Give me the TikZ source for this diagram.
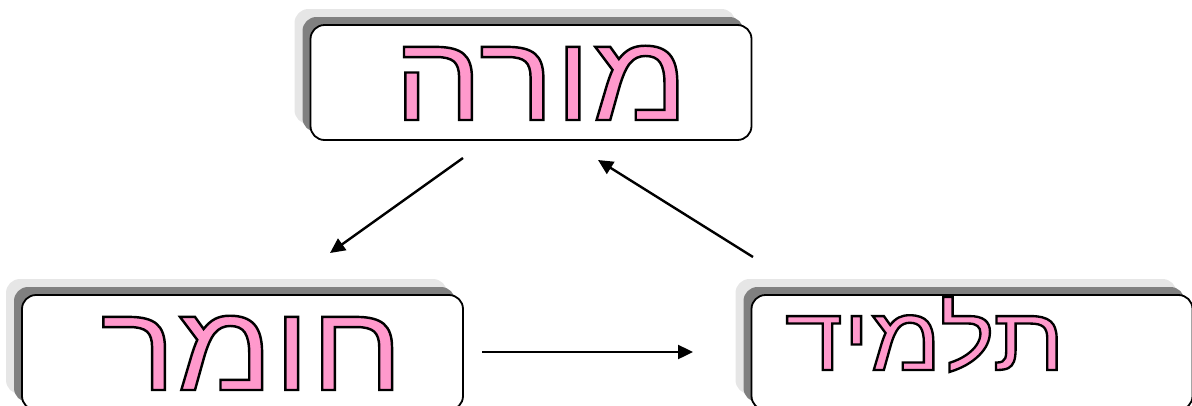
\documentclass[tikz,border=0pt]{standalone}
\usepackage{fontspec}
\usetikzlibrary{arrows.meta,shadows}
\TeXXeTstate=1
\newfontfamily\hebfont[Script=Hebrew,FakeBold=2,FakeStretch=1.16]{Liberation Sans}
\newfontfamily\hebsmallfont[Script=Hebrew,FakeBold=2.6,FakeStretch=1.16]{Liberation Sans}
\definecolor{textpink}{HTML}{FF99CC}
\definecolor{shadowdark}{HTML}{808080}
\definecolor{shadowlight}{HTML}{E6E6E6}
\newcommand{\outlined}[1]{{\color{textpink}\special{pdf:literal direct 0 0 0 RG}\hebfont\beginR #1\endR}}
\newcommand{\outlinedsmall}[1]{{\color{textpink}\special{pdf:literal direct 0 0 0 RG}\hebsmallfont\beginR #1\endR}}
\tikzset{
  box/.style={draw=black, line width=1.8pt, rounded corners=14pt, fill=white,
    minimum width=441pt, minimum height=115pt, inner sep=0pt,
    general shadow={fill=shadowlight, shadow xshift=-16pt, shadow yshift=16pt},
    general shadow={fill=shadowdark, shadow xshift=-8pt, shadow yshift=8pt}},
  word/.style={font=\fontsize{122}{122}\selectfont, inner sep=0pt, anchor=base},
  smallword/.style={word, font=\fontsize{90}{90}\selectfont},
  arr/.style={line width=2.4pt, -{Triangle[length=15pt,width=14pt]}}
}
\begin{document}
\begin{tikzpicture}[x=1pt,y=-1pt]
\useasboundingbox (0,0) rectangle (1192,405);
\clip (0,0) rectangle (1192,405);
\node[box] (teacherbox) at (531,82.5) {};
\node[box] (materialbox) at (242.5,352.5) {};
\node[box] (studentbox) at (972,352.5) {};
\node[word] (teacher) at (541,120) {\outlined{מורה}};
\node[word] (material) at (252,390) {\outlined{חומר}};
\node[smallword] (student) at (925,370) {\outlinedsmall{תלמיד}};
\coordinate (a1s) at (463,158);
\coordinate (a1e) at (330,253);
\coordinate (a2s) at (753,257);
\coordinate (a2e) at (598,160);
\coordinate (a3s) at (482,352);
\coordinate (a3e) at (693,352);
\draw[arr] (a1s) -- (a1e);
\draw[arr] (a2s) -- (a2e);
\draw[arr] (a3s) -- (a3e);
\end{tikzpicture}
\end{document}
